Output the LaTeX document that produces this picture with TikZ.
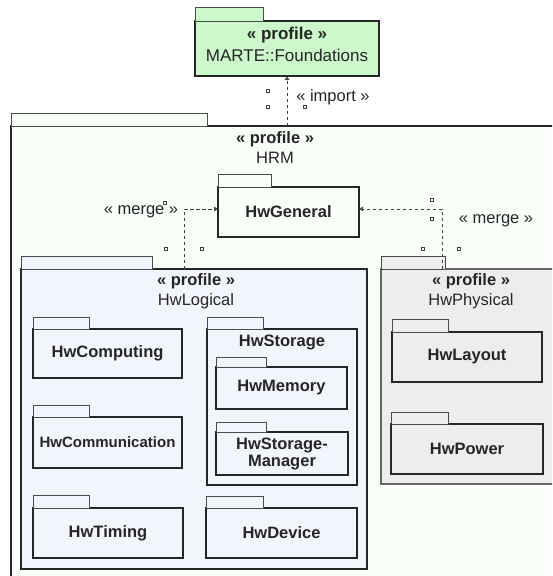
\documentclass[tikz,border=0pt]{standalone}
\usepackage{fontspec}
\setmainfont{Liberation Sans}
\usetikzlibrary{arrows.meta}

\definecolor{martefill}{HTML}{CCF8CC}
\definecolor{hrmfill}{HTML}{FAFFFA}
\definecolor{logfill}{HTML}{F2F5FC}
\definecolor{phyfill}{HTML}{EDEDED}

% tab on top of a package body
\newcommand{\pkgtab}[4][]{\draw[tab,#1] (#2.north west) rectangle ++(#3,-#4);}

\begin{document}
\begin{tikzpicture}[x=1pt,y=-1pt,
    pkg/.style={draw=black!85, line width=1.2pt, anchor=north west, inner sep=0pt, outer sep=0pt,
        align=center, font=\fontsize{16.5}{17}\selectfont\bfseries, text=black!85},
    tab/.style={draw=black!70, line width=0.9pt},
    ttl/.style={align=center, font=\fontsize{16.5}{20}\selectfont, text=black!85},
    lbl/.style={font=\fontsize{16.5}{20}\selectfont, text=black!85},
    dep/.style={draw=black!75, line width=1pt, dash pattern=on 3.5pt off 2.5pt,
        -{Triangle[open,length=4pt,width=4.5pt]}},
    handle/.style={draw=black!75, fill=white, line width=0.6pt}]
    \clip (0,0) rectangle (552,576);

    % imported profile
    \node[pkg, fill=martefill, minimum width=184, minimum height=55] (marte) at (195,21) {};
    \pkgtab[fill=martefill]{marte}{68}{14}
    \node[ttl, font=\fontsize{17}{22}\selectfont] (martename) at (287,44) {\textbf{« profile »}\\MARTE::Foundations};

    % HRM
    \node[pkg, fill=hrmfill, line width=1.4pt, minimum width=600, minimum height=500] (hrm) at (11,126) {};
    \pkgtab[fill=hrmfill]{hrm}{196}{13}
    \node[ttl] (hrmname) at (275,148) {\textbf{« profile »}\\HRM};

    \node[pkg, fill=hrmfill, minimum width=141, minimum height=50] (gen) at (218,187) {HwGeneral};
    \pkgtab[fill=hrmfill]{gen}{53}{13}

    % HwLogical
    \node[pkg, fill=logfill, line width=1.3pt, minimum width=346, minimum height=300] (hwlog) at (21,269) {};
    \pkgtab[fill=logfill]{hwlog}{131}{13}
    \node[ttl] (logname) at (196,291) {\textbf{« profile »}\\HwLogical};

    \node[pkg, fill=logfill, minimum width=149, minimum height=49] (comp) at (33,329) {HwComputing};
    \pkgtab[fill=logfill]{comp}{56}{12}
    \node[pkg, fill=logfill, minimum width=149, minimum height=51,
        font=\fontsize{15}{17}\selectfont\bfseries] (comm) at (33,417) {HwCommunication};
    \pkgtab[fill=logfill]{comm}{56}{12}
    \node[pkg, fill=logfill, minimum width=150, minimum height=50] (timing) at (33,508) {HwTiming};
    \pkgtab[fill=logfill]{timing}{56}{13}

    \node[pkg, fill=logfill, minimum width=150, minimum height=156] (stor) at (207,329) {};
    \pkgtab[fill=logfill]{stor}{56}{12}
    \node[font=\fontsize{16.5}{17}\selectfont\bfseries, text=black!85] (storname) at (282,342) {HwStorage};
    \node[pkg, fill=logfill, minimum width=131, minimum height=42] (mem) at (216,367) {HwMemory};
    \pkgtab[fill=logfill]{mem}{50}{10}
    \node[pkg, fill=logfill, minimum width=132, minimum height=43] (mgr) at (216,432) {HwStorage-\\Manager};
    \pkgtab[fill=logfill]{mgr}{50}{10}

    \node[pkg, fill=logfill, minimum width=151, minimum height=50] (dev) at (206,508) {HwDevice};
    \pkgtab[fill=logfill]{dev}{57}{12}

    % HwPhysical
    \node[pkg, fill=phyfill, draw=black!60, line width=1.2pt, minimum width=181, minimum height=215] (hwphy) at (381,269) {};
    \pkgtab[fill=phyfill]{hwphy}{64}{13}
    \node[ttl] (phyname) at (471,291) {\textbf{« profile »}\\HwPhysical};

    \node[pkg, fill=phyfill, minimum width=150, minimum height=50] (lay) at (392,332) {HwLayout};
    \pkgtab[fill=phyfill]{lay}{56}{13}
    \node[pkg, fill=phyfill, minimum width=152, minimum height=50] (pow) at (391,424) {HwPower};
    \pkgtab[fill=phyfill]{pow}{57}{12}

    % dependencies
    \draw[dep] (hrm.north -| marte.south) -- (marte.south);
    \draw[dep] ([xshift=163pt]hwlog.north west) |- ([yshift=3pt]gen.west);
    \draw[dep] ([xshift=61pt]hwphy.north west) |- ([yshift=3pt]gen.east);

    \node[lbl] (implbl) at (333,97) {« import »};
    \node[lbl] (mrgleft) at (141,212) {« merge »};
    \node[lbl] (mrgright) at (496,221) {« merge »};

    \foreach \hx/\hy in {268/91, 268/107, 305/107, 165/203, 166/249, 202/249, 432/200, 432/219, 423/249, 459/249}
        \draw[handle] (\hx-1.5,\hy-1.5) rectangle ++(3,3);
\end{tikzpicture}
\end{document}
